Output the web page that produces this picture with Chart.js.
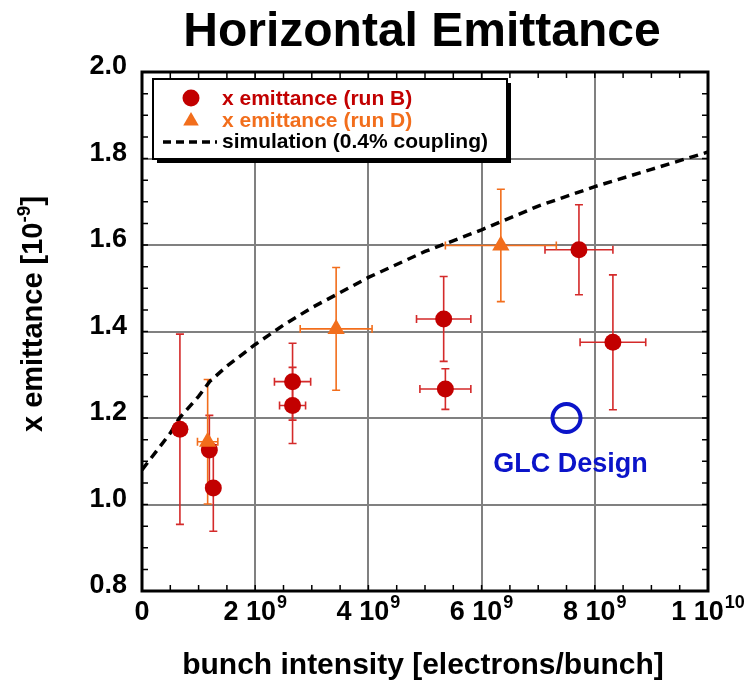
<!DOCTYPE html>
<html>
<head>
<meta charset="utf-8">
<script src="https://cdn.jsdelivr.net/npm/chart.js@4.4.1/dist/chart.umd.min.js"></script>
<style>
  html, body { margin: 0; padding: 0; background: #fff; }
  #wrap { width: 749px; height: 681px; }
</style>
</head>
<body>
<div id="wrap"><canvas id="chart" width="749" height="681"></canvas></div>
<script>
// run B (red circles)
const runBX = [0.67e9, 1.19e9, 1.26e9, 2.66e9, 2.66e9, 5.33e9, 5.36e9, 7.72e9, 8.32e9];
const runBY = [1.174, 1.126, 1.038, 1.284, 1.229, 1.429, 1.267, 1.589, 1.375];
const runBXErr = [0, 0, 0, 0.32e9, 0.23e9, 0.48e9, 0.45e9, 0.60e9, 0.58e9];
const runBYErr = [0.22, 0.08, 0.10, 0.089, 0.088, 0.098, 0.047, 0.104, 0.156];

// run D (orange triangles)
const runDX = [1.16e9, 3.43e9, 6.34e9];
const runDY = [1.145, 1.406, 1.599];
const runDXErr = [0.18e9, 0.635e9, 0.98e9];
const runDYErr = [0.144, 0.142, 0.13];

// simulation (0.4% coupling), dashed
const simX = [0, 0.5e9, 0.66e9, 1.0e9, 1.2e9, 1.5e9, 2.0e9, 2.5e9, 3.0e9, 3.5e9, 4.0e9, 5.0e9, 6.0e9, 7.0e9, 8.0e9, 9.0e9, 1.0e10];
const simY = [1.08, 1.165, 1.20, 1.25, 1.285, 1.32, 1.37, 1.415, 1.455, 1.49, 1.525, 1.585, 1.635, 1.69, 1.735, 1.775, 1.815];

// GLC design point
const glcX = [7.5e9];
const glcY = [1.2];

const xTickValues = [0, 2e9, 4e9, 6e9, 8e9, 1e10];
const xTickBase = ["0", "2 10", "4 10", "6 10", "8 10", "1 10"];
const xTickExp = ["", "9", "9", "9", "9", "10"];
const yTickValues = [0.8, 1.0, 1.2, 1.4, 1.6, 1.8, 2.0];
const yTickLabels = ["0.8", "1.0", "1.2", "1.4", "1.6", "1.8", "2.0"];

const RED = "#c20000";
const RED_BAR = "#d42a2a";
const ORANGE = "#f26e1c";
const BLUE = "#0b14c9";
const FONT = "'Liberation Sans', Arial, Helvetica, sans-serif";

const pts = (xs, ys) => xs.map((x, i) => ({ x, y: ys[i] }));

function drawErrorBars(chart, xs, ys, xe, ye, color) {
  const { ctx, scales } = chart;
  const sx = scales.x, sy = scales.y;
  const cap = 4;
  ctx.save();
  ctx.strokeStyle = color;
  ctx.lineWidth = 1.6;
  xs.forEach((x, i) => {
    const px = sx.getPixelForValue(x);
    const py = sy.getPixelForValue(ys[i]);
    if (ye[i] > 0) {
      const t = sy.getPixelForValue(ys[i] + ye[i]);
      const b = sy.getPixelForValue(ys[i] - ye[i]);
      ctx.beginPath();
      ctx.moveTo(px, t); ctx.lineTo(px, b);
      ctx.moveTo(px - cap, t); ctx.lineTo(px + cap, t);
      ctx.moveTo(px - cap, b); ctx.lineTo(px + cap, b);
      ctx.stroke();
    }
    if (xe[i] > 0) {
      const l = sx.getPixelForValue(x - xe[i]);
      const r = sx.getPixelForValue(x + xe[i]);
      ctx.beginPath();
      ctx.moveTo(l, py); ctx.lineTo(r, py);
      ctx.moveTo(l, py - cap); ctx.lineTo(l, py + cap);
      ctx.moveTo(r, py - cap); ctx.lineTo(r, py + cap);
      ctx.stroke();
    }
  });
  ctx.restore();
}

function triangle(ctx, x, y, r) {
  const edge = 3 * r / Math.sqrt(3);
  const h = edge * Math.sqrt(3) / 2;
  ctx.beginPath();
  ctx.moveTo(x - edge / 2, y + h / 3);
  ctx.lineTo(x + edge / 2, y + h / 3);
  ctx.lineTo(x, y - 2 * h / 3);
  ctx.closePath();
  ctx.fill();
}

const decor = {
  id: "decor",
  beforeDatasetsDraw(chart) {
    drawErrorBars(chart, runBX, runBY, runBXErr, runBYErr, RED_BAR);
    drawErrorBars(chart, runDX, runDY, runDXErr, runDYErr, ORANGE);
  },
  afterDraw(chart) {
    const { ctx, chartArea: a, scales } = chart;
    const sx = scales.x, sy = scales.y;
    ctx.save();

    // minor ticks, inward on all four sides
    ctx.strokeStyle = "#000";
    ctx.lineWidth = 1.5;
    ctx.beginPath();
    for (let v = 0.5e9; v < 1e10; v += 0.5e9) {
      const px = sx.getPixelForValue(v);
      ctx.moveTo(px, a.bottom); ctx.lineTo(px, a.bottom - 6);
      ctx.moveTo(px, a.top); ctx.lineTo(px, a.top + 6);
    }
    for (let v = 0.85; v < 2.0; v += 0.05) {
      const py = sy.getPixelForValue(v);
      ctx.moveTo(a.left, py); ctx.lineTo(a.left + 6, py);
      ctx.moveTo(a.right, py); ctx.lineTo(a.right - 6, py);
    }
    ctx.stroke();

    // frame
    ctx.lineWidth = 3;
    ctx.strokeRect(a.left, a.top, a.right - a.left, a.bottom - a.top);

    // title
    ctx.fillStyle = "#000";
    ctx.textAlign = "center";
    ctx.textBaseline = "alphabetic";
    ctx.font = "bold 48px " + FONT;
    ctx.fillText("Horizontal Emittance", 422, 46);

    // y tick labels
    ctx.font = "bold 27px " + FONT;
    ctx.textAlign = "right";
    yTickValues.forEach((v, i) => {
      ctx.fillText(yTickLabels[i], 127, sy.getPixelForValue(v) + 2);
    });

    // x tick labels with superscript exponent
    xTickValues.forEach((v, i) => {
      const px = sx.getPixelForValue(v);
      ctx.font = "bold 27px " + FONT;
      const wb = ctx.measureText(xTickBase[i]).width;
      ctx.font = "bold 18px " + FONT;
      const we = xTickExp[i] ? ctx.measureText(xTickExp[i]).width + 1 : 0;
      const x0 = px - (wb + we) / 2;
      ctx.textAlign = "left";
      ctx.font = "bold 27px " + FONT;
      ctx.fillText(xTickBase[i], x0, 620);
      if (xTickExp[i]) {
        ctx.font = "bold 18px " + FONT;
        ctx.fillText(xTickExp[i], x0 + wb + 1, 608);
      }
    });

    // axis titles
    ctx.textAlign = "center";
    ctx.font = "bold 30px " + FONT;
    ctx.fillText("bunch intensity [electrons/bunch]", 423, 674);

    ctx.save();
    ctx.translate(42, 314);
    ctx.rotate(-Math.PI / 2);
    ctx.font = "bold 29px " + FONT;
    const main = "x emittance [10";
    const sup = "-9";
    const close = "]";
    const wm = ctx.measureText(main).width;
    const wc = ctx.measureText(close).width;
    ctx.font = "bold 19px " + FONT;
    const ws = ctx.measureText(sup).width;
    let x0 = -(wm + ws + wc) / 2;
    ctx.textAlign = "left";
    ctx.font = "bold 29px " + FONT;
    ctx.fillText(main, x0, 0);
    ctx.font = "bold 19px " + FONT;
    ctx.fillText(sup, x0 + wm, -12);
    ctx.font = "bold 29px " + FONT;
    ctx.fillText(close, x0 + wm + ws, 0);
    ctx.restore();

    // GLC label
    ctx.fillStyle = BLUE;
    ctx.font = "bold 27px " + FONT;
    ctx.textAlign = "center";
    ctx.fillText("GLC Design", sx.getPixelForValue(glcX[0]) + 4, 472);

    // legend box with shadow
    ctx.fillStyle = "#000";
    ctx.fillRect(157, 83, 354, 80);
    ctx.fillStyle = "#fff";
    ctx.fillRect(153, 79, 354, 80);
    ctx.lineWidth = 2;
    ctx.strokeStyle = "#000";
    ctx.strokeRect(153, 79, 354, 80);

    ctx.fillStyle = RED;
    ctx.beginPath();
    ctx.arc(191, 98, 8.5, 0, Math.PI * 2);
    ctx.fill();
    ctx.fillStyle = ORANGE;
    triangle(ctx, 191, 121, 9);

    ctx.strokeStyle = "#000";
    ctx.lineWidth = 3.5;
    ctx.setLineDash([8, 5]);
    ctx.beginPath();
    ctx.moveTo(163, 142); ctx.lineTo(217, 142);
    ctx.stroke();
    ctx.setLineDash([]);

    ctx.textAlign = "left";
    ctx.font = "bold 21px " + FONT;
    ctx.fillStyle = RED;
    ctx.fillText("x emittance (run B)", 222, 105);
    ctx.fillStyle = ORANGE;
    ctx.fillText("x emittance (run D)", 222, 127);
    ctx.fillStyle = "#000";
    ctx.fillText("simulation (0.4% coupling)", 222, 148);

    ctx.restore();
  }
};

new Chart(document.getElementById("chart"), {
  type: "scatter",
  data: {
    datasets: [
      {
        label: "x emittance (run D)",
        data: pts(runDX, runDY),
        pointStyle: "triangle",
        pointRadius: 10,
        backgroundColor: ORANGE,
        borderColor: ORANGE,
        borderWidth: 0
      },
      {
        label: "x emittance (run B)",
        data: pts(runBX, runBY),
        pointStyle: "circle",
        pointRadius: 8.5,
        backgroundColor: RED,
        borderColor: RED,
        borderWidth: 0
      },
      {
        label: "GLC Design",
        data: pts(glcX, glcY),
        pointStyle: "circle",
        pointRadius: 14,
        backgroundColor: "rgba(0,0,0,0)",
        borderColor: BLUE,
        borderWidth: 4
      },
      {
        label: "simulation (0.4% coupling)",
        data: pts(simX, simY),
        showLine: true,
        borderColor: "#000",
        borderWidth: 3.5,
        borderDash: [9, 6],
        pointRadius: 0,
        tension: 0,
        fill: false
      }
    ]
  },
  options: {
    responsive: false,
    devicePixelRatio: 1,
    animation: false,
    layout: { padding: { left: 142, right: 41, top: 72, bottom: 90 } },
    plugins: { legend: { display: false }, tooltip: { enabled: false } },
    scales: {
      x: {
        type: "linear",
        min: 0,
        max: 1e10,
        ticks: { display: false, stepSize: 2e9 },
        grid: { color: "#808080", lineWidth: 2, drawTicks: false },
        border: { display: false }
      },
      y: {
        type: "linear",
        min: 0.8,
        max: 2.0,
        ticks: { display: false, stepSize: 0.2 },
        grid: { color: "#808080", lineWidth: 2, drawTicks: false },
        border: { display: false }
      }
    }
  },
  plugins: [decor]
});
</script>
</body>
</html>
